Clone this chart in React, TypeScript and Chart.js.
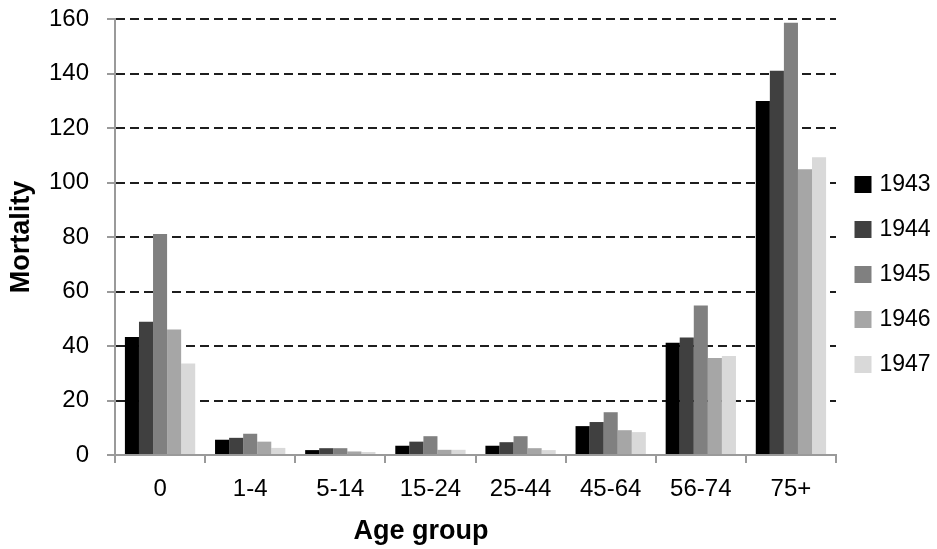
import React, { useEffect, useRef } from "react";
import { Chart, registerables } from "chart.js";

Chart.register(...registerables);

const categories = ["0", "1-4", "5-14", "15-24", "25-44", "45-64", "56-74", "75+"];
const seriesNames = ["1943", "1944", "1945", "1946", "1947"];
const values1943 = [43.3, 5.6, 1.8, 3.4, 3.4, 10.6, 41.2, 129.9];
const values1944 = [48.9, 6.3, 2.5, 4.9, 4.7, 12.1, 43.1, 141.0];
const values1945 = [81.1, 7.8, 2.5, 6.9, 6.9, 15.7, 54.9, 158.6];
const values1946 = [46.1, 4.9, 1.3, 1.9, 2.5, 9.1, 35.6, 104.9];
const values1947 = [33.6, 2.6, 1.1, 1.9, 1.8, 8.4, 36.3, 109.3];
const seriesColors = ["#000000", "#404040", "#808080", "#a6a6a6", "#d9d9d9"];
const yMin = 0;
const yMax = 160;
const yStep = 20;
const xTitle = "Age group";
const yTitle = "Mortality";

const FONT = "'Liberation Sans', Arial, sans-serif";

const xTitlePlugin = {
  id: "xTitleOffset",
  afterDraw(chart: any) {
    const ctx = chart.ctx;
    const xs = chart.scales.x;
    ctx.save();
    ctx.font = `bold 27px ${FONT}`;
    ctx.fillStyle = "#000";
    ctx.textAlign = "center";
    ctx.textBaseline = "middle";
    ctx.fillText(xTitle, xs.left + 306, xs.bottom - 17);
    ctx.restore();
  },
};

export default function App() {
  const ref = useRef<HTMLCanvasElement | null>(null);

  useEffect(() => {
    if (!ref.current) return;
    const allValues = [values1943, values1944, values1945, values1946, values1947];
    const chart = new Chart(ref.current, {
      type: "bar",
      data: {
        labels: categories,
        datasets: seriesNames.map((name, i) => ({
          label: name,
          data: allValues[i],
          backgroundColor: seriesColors[i],
          borderWidth: 0,
          barPercentage: 1.0,
          categoryPercentage: 0.78,
        })),
      },
      plugins: [xTitlePlugin],
      options: {
        responsive: false,
        animation: false,
        layout: { padding: { left: 0, right: 0, top: 0, bottom: 0 } },
        plugins: {
          tooltip: { enabled: false },
          legend: {
            position: "right",
            maxWidth: 101,
            labels: {
              usePointStyle: true,
              pointStyle: "rect",
              boxWidth: 10,
              boxHeight: 17,
              padding: 22,
              color: "#000",
              font: { family: FONT, size: 23 },
            },
          },
        },
        scales: {
          x: {
            afterFit: (s: any) => {
              s.height = 94;
            },
            grid: {
              display: true,
              drawOnChartArea: false,
              offset: true,
              color: "#9a9a9a",
              lineWidth: 2,
              tickLength: 8,
            },
            border: { color: "#9a9a9a", width: 2 },
            ticks: {
              color: "#000",
              padding: 12,
              font: { family: FONT, size: 24 },
              maxRotation: 0,
              autoSkip: false,
            },
            title: { display: false, text: xTitle },
          },
          y: {
            min: yMin,
            max: yMax,
            afterFit: (s: any) => {
              s.width = 115;
            },
            grid: {
              color: (c: any) => (c.tick && c.tick.value === 0 ? "rgba(0,0,0,0)" : "#1e1e1e"),
              lineWidth: 2,
              tickColor: "#9a9a9a",
              tickWidth: 2,
              tickLength: 8,
              tickBorderDash: [],
            },
            border: { color: "#9a9a9a", width: 2, dash: [9, 5] },
            ticks: {
              stepSize: yStep,
              color: "#000",
              padding: 18,
              font: { family: FONT, size: 24, lineHeight: 0.085 },
            },
            title: {
              display: true,
              text: yTitle,
              color: "#000",
              font: { family: FONT, size: 27, weight: "bold" },
              padding: { top: 5, bottom: 0 },
            },
          },
        },
      },
    });
    return () => chart.destroy();
  }, []);

  return (
    <div style={{ position: "fixed", left: 0, top: 0, width: 937, height: 549, background: "#fff" }}>
      <canvas ref={ref} width={937} height={549} style={{ display: "block" }} />
    </div>
  );
}
